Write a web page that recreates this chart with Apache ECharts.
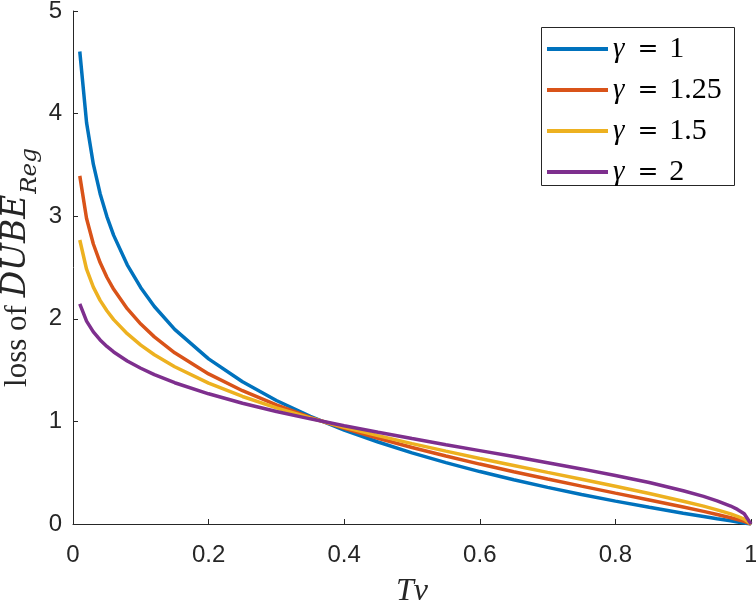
<!DOCTYPE html>
<html>
<head>
<meta charset="utf-8">
<script src="https://cdn.jsdelivr.net/npm/echarts@6/dist/echarts.min.js"></script>
<style>html,body{margin:0;padding:0;background:#fff}#c{width:756px;height:609px}</style>
</head>
<body>
<div id="c"></div>
<script>
var tv = [0.01,0.02,0.03,0.04,0.05,0.06,0.08,0.1,0.12,0.15,0.2,0.25,0.3,0.35,0.4,0.45,0.5,0.55,0.6,0.65,0.7,0.75,0.8,0.85,0.9,0.93,0.95,0.97,0.98,0.99,1.0];
var lossG1   = [4.605,3.912,3.507,3.219,2.996,2.813,2.526,2.303,2.120,1.897,1.609,1.386,1.204,1.050,0.916,0.799,0.693,0.598,0.511,0.431,0.357,0.288,0.223,0.163,0.105,0.073,0.051,0.031,0.020,0.010,0];
var lossG125 = [3.393,2.978,2.729,2.548,2.405,2.287,2.099,1.949,1.824,1.669,1.463,1.299,1.160,1.040,0.932,0.836,0.746,0.663,0.584,0.510,0.439,0.369,0.301,0.234,0.165,0.123,0.093,0.061,0.044,0.025,0];
var lossG15  = [2.768,2.483,2.309,2.180,2.078,1.992,1.855,1.744,1.650,1.533,1.373,1.243,1.132,1.033,0.943,0.861,0.783,0.710,0.639,0.571,0.503,0.436,0.368,0.298,0.222,0.174,0.138,0.098,0.074,0.047,0];
var lossG2   = [2.146,1.978,1.873,1.794,1.731,1.677,1.589,1.518,1.456,1.377,1.269,1.177,1.097,1.025,0.957,0.894,0.833,0.773,0.715,0.657,0.597,0.537,0.472,0.404,0.324,0.269,0.226,0.175,0.142,0.100,0];
var gammaLabels = ['1','1.25','1.5','2'];
var colors = ['#0072BD','#D95319','#EDB120','#7E2F8E'];

var allLoss = [lossG1, lossG125, lossG15, lossG2];
var axisColor = '#262626';
var series = allLoss.map(function(arr, i){
  return {
    name: 'γ = ' + gammaLabels[i],
    type: 'line',
    showSymbol: false,
    symbol: 'none',
    data: tv.map(function(x, j){ return [x, arr[j]]; }),
    lineStyle: {width: 3.5, color: colors[i]},
    itemStyle: {color: colors[i]},
    z: 2 + i
  };
});

var chart = echarts.init(document.getElementById('c'), null, {renderer:'canvas'});
chart.setOption({
  animation: false,
  backgroundColor: '#fff',
  grid: {left: 73, right: 5, top: 11, bottom: 85, containLabel: false, outerBoundsMode: 'none'},
  graphic: [{
    type: 'rect', left: 541, top: 27, z: 10,
    shape: {width: 193, height: 158},
    style: {fill: '#fff', stroke: axisColor, lineWidth: 1}
  }],
  xAxis: {
    type: 'value', min: 0, max: 1, interval: 0.2,
    axisLine: {show: true, onZero: false, lineStyle: {color: axisColor, width: 1}},
    axisTick: {show: true, inside: true, length: 5, lineStyle: {color: axisColor}},
    splitLine: {show: false},
    axisLabel: {color: axisColor, fontSize: 24, fontFamily: 'Liberation Sans, Arial, sans-serif', margin: 19,
      formatter: function(v){ return String(v); }},
    name: 'Tv', nameLocation: 'middle', nameGap: 52,
    nameTextStyle: {fontFamily: 'Liberation Serif, serif', fontStyle: 'italic', fontSize: 32, color: axisColor}
  },
  yAxis: {
    type: 'value', min: 0, max: 5, interval: 1,
    axisLine: {show: true, onZero: false, lineStyle: {color: axisColor, width: 1}},
    axisTick: {show: true, inside: true, length: 5, lineStyle: {color: axisColor}},
    splitLine: {show: false},
    axisLabel: {color: axisColor, fontSize: 24, fontFamily: 'Liberation Sans, Arial, sans-serif', margin: 11},
    name: '{r|loss of }{i|DUBE}{s|Reg}', nameLocation: 'middle', nameGap: 40, nameRotate: 90,
    nameMoveOverlap: false,
    nameTextStyle: {
      color: axisColor,
      rich: {
        r: {fontFamily: 'Liberation Serif, serif', fontSize: 31, color: axisColor, lineHeight: 40, verticalAlign: 'bottom'},
        i: {fontFamily: 'DejaVu Serif, serif', fontStyle: 'italic', fontSize: 33, color: axisColor, lineHeight: 40, verticalAlign: 'bottom'},
        s: {fontFamily: 'DejaVu Serif, serif', fontStyle: 'italic', fontSize: 23, color: axisColor, lineHeight: 40, verticalAlign: 'bottom', padding: [0,0,-9,1]}
      }
    }
  },
  legend: {
    orient: 'vertical', left: 541, top: 27, z: 20,
    borderWidth: 0,
    padding: [7, 0, 7, 6],
    itemWidth: 61, itemHeight: 4, itemGap: 11,
    icon: 'rect',
    formatter: function(name){ return '{g|γ}{e|=}{t|' + name.split('= ')[1] + '}'; },
    textStyle: {
      color: '#000', lineHeight: 28,
      rich: {
        g: {fontFamily: 'Liberation Serif, serif', fontStyle: 'italic', fontSize: 29, lineHeight: 28, color: '#000', padding: [0,13,0,0]},
        e: {fontFamily: 'DejaVu Serif, serif', fontSize: 25, lineHeight: 28, color: '#000', padding: [0,11,0,0]},
        t: {fontFamily: 'Liberation Serif, serif', fontSize: 30, lineHeight: 28, color: '#000'}
      }
    },
    data: series.map(function(s){ return s.name; })
  },
  series: series
});
</script>
</body>
</html>
